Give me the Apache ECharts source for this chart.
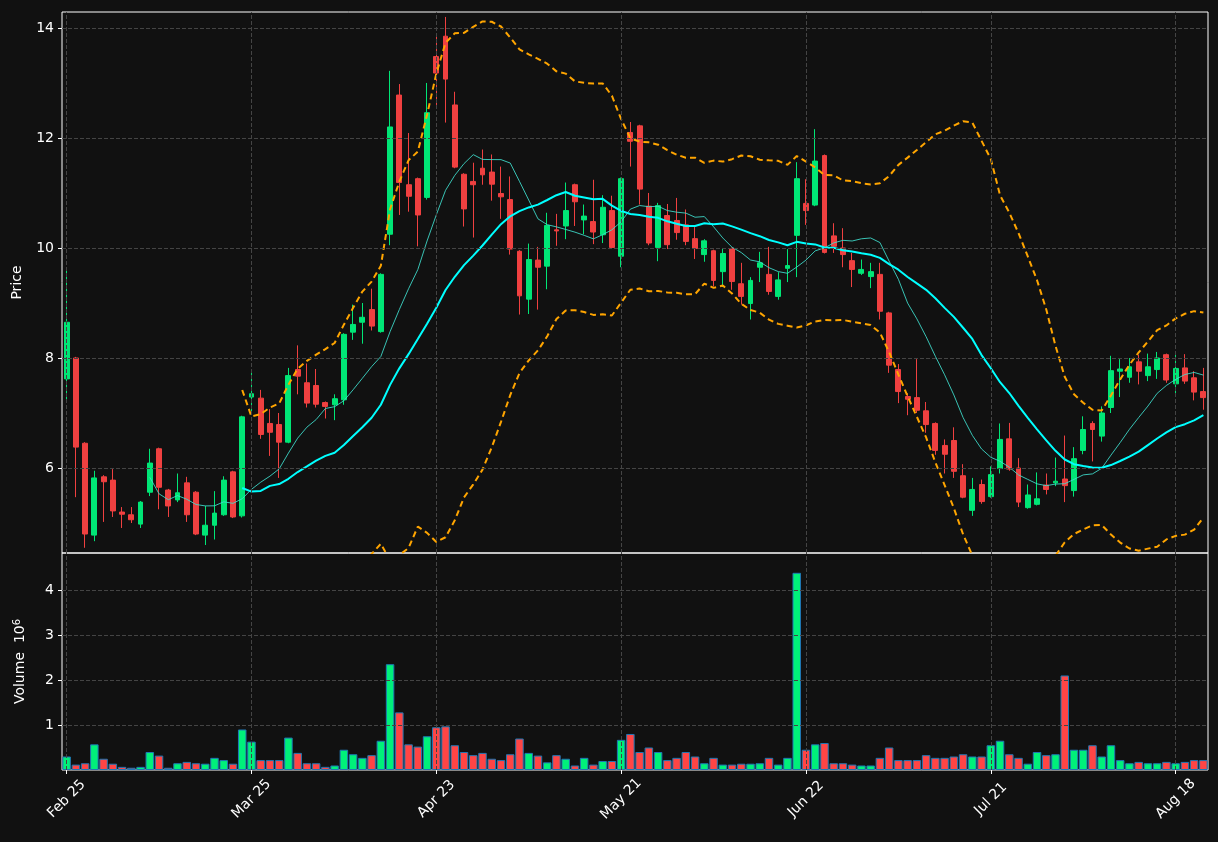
<!DOCTYPE html>
<html><head><meta charset="utf-8">
<script src="https://cdn.jsdelivr.net/npm/echarts@6/dist/echarts.min.js"></script>
<style>html,body{margin:0;padding:0;background:#111111;}#c{width:1218px;height:842px;}</style>
</head><body><div id="c"></div>
<script>
const tickLabels = ['Feb 25','Mar 25','Apr 23','May 21','Jun 22','Jul 21','Aug 18'];
const tickIdx = [0,20,40,60,80,100,120];
const priceTicks = [6,8,10,12,14];
const volTicks = [1,2,3,4];
const opens = [7.62,8.0,6.45,4.78,5.84,5.78,5.20,5.15,4.98,5.56,6.35,5.60,5.42,5.73,5.56,4.78,4.96,5.15,5.93,5.13,
7.29,7.27,6.81,6.79,6.47,7.79,7.55,7.50,7.19,7.15,7.24,8.47,8.65,8.88,8.48,10.25,12.78,11.15,11.26,10.92,
13.48,13.85,12.60,11.34,11.21,11.45,11.38,10.99,10.88,9.94,9.07,9.78,9.67,10.33,10.40,11.15,10.51,10.48,10.24,10.68,
9.85,12.10,12.22,10.76,10.01,10.59,10.50,10.42,10.17,9.88,9.95,9.57,9.99,9.35,8.99,9.65,9.52,9.12,9.63,10.23,
10.81,10.78,11.68,10.22,10.00,9.77,9.54,9.48,9.52,8.82,7.79,7.30,7.28,7.04,6.81,6.41,6.50,5.86,5.23,5.70,
5.48,5.99,6.53,6.00,5.28,5.34,5.69,5.73,5.80,5.59,6.32,6.81,6.58,7.10,7.76,7.65,7.93,7.68,7.79,8.06,
7.53,7.82,7.64,7.39];
const closes = [8.65,6.38,4.80,5.82,5.75,5.22,5.16,5.06,5.38,6.09,5.65,5.31,5.55,5.15,4.80,4.96,5.18,5.78,5.11,6.93,
7.35,6.61,6.65,6.47,7.68,7.67,7.18,7.16,7.12,7.26,8.43,8.61,8.74,8.58,9.52,12.20,11.19,10.94,10.60,12.46,
13.18,13.07,11.47,10.71,11.15,11.33,11.16,10.93,9.98,9.13,9.79,9.65,10.41,10.31,10.68,10.84,10.58,10.29,10.74,10.01,
11.26,11.94,11.07,10.09,10.77,10.06,10.28,10.12,9.99,10.13,9.41,9.90,9.39,9.12,9.41,9.73,9.21,9.42,9.68,11.26,
10.68,11.58,9.92,10.03,9.88,9.61,9.61,9.57,8.85,7.87,7.39,7.25,7.05,6.79,6.32,6.25,5.94,5.47,5.61,5.39,
5.88,6.52,5.98,5.38,5.51,5.44,5.61,5.76,5.68,6.17,6.70,6.70,7.00,7.77,7.80,7.84,7.76,7.84,8.00,7.60,
7.81,7.58,7.38,7.28];
const lows = [7.25,5.47,4.55,4.67,5.02,5.11,4.91,5.00,4.91,5.49,5.25,5.11,5.38,5.02,4.78,4.60,4.70,5.13,5.09,5.10,
7.00,6.53,6.22,5.82,6.45,7.34,7.10,7.10,6.90,6.87,7.15,8.33,8.26,8.50,8.46,10.05,10.60,10.66,10.03,10.88,
12.60,12.28,11.45,10.39,10.19,11.15,10.86,10.53,9.88,8.79,8.80,8.88,9.25,10.04,10.16,10.40,10.25,10.07,10.09,10.00,
9.65,11.48,10.79,10.05,9.76,9.98,10.15,10.05,9.80,9.75,9.30,9.29,9.24,8.97,8.70,9.38,9.15,9.06,9.38,9.47,
10.42,10.76,9.90,9.91,9.65,9.29,9.51,9.27,8.70,7.73,7.18,6.96,7.00,6.64,6.24,5.90,5.82,5.45,5.13,5.35,
5.46,5.90,5.95,5.29,5.26,5.32,5.52,5.67,5.38,5.48,6.25,6.12,6.48,7.00,7.29,7.55,7.52,7.58,7.62,7.55,
7.33,7.53,7.23,7.06];
const highs = [9.65,8.02,6.47,5.95,5.87,5.98,5.29,5.29,5.40,6.35,6.37,5.62,5.90,5.84,5.58,5.31,5.58,5.85,5.95,6.95,
7.76,7.42,7.07,7.00,7.82,8.23,7.90,7.80,7.21,7.34,8.45,8.97,9.00,9.26,9.54,13.22,12.98,12.09,11.28,13.00,
13.86,14.20,12.84,11.36,11.55,11.79,11.70,11.48,11.30,9.96,10.08,10.02,10.64,10.62,11.19,11.17,10.79,11.24,10.96,10.95,
11.28,12.29,12.24,11.00,10.82,10.80,10.91,10.70,10.38,10.16,9.97,10.00,10.01,9.73,9.47,9.93,10.02,9.56,9.98,11.56,
11.25,12.16,11.70,10.45,10.36,9.91,9.79,9.73,9.73,8.84,7.89,7.36,7.98,7.20,6.83,6.52,6.74,6.07,5.82,5.79,
6.03,6.81,6.82,6.18,5.70,5.92,5.90,6.19,6.59,6.38,6.94,6.85,7.12,8.04,7.98,8.00,8.06,8.08,8.11,8.08,
8.06,8.07,7.76,7.82];
const volumes = [0.30,0.12,0.15,0.57,0.25,0.14,0.07,0.05,0.07,0.40,0.32,0.05,0.15,0.18,0.15,0.14,0.27,0.22,0.14,0.90,
0.63,0.22,0.22,0.22,0.72,0.38,0.15,0.15,0.07,0.10,0.45,0.35,0.27,0.33,0.65,2.35,1.28,0.57,0.52,0.75,
0.95,0.97,0.55,0.40,0.33,0.38,0.25,0.22,0.35,0.70,0.38,0.32,0.17,0.33,0.25,0.10,0.27,0.12,0.20,0.20,
0.67,0.80,0.40,0.50,0.40,0.22,0.27,0.40,0.30,0.15,0.27,0.12,0.12,0.14,0.14,0.15,0.27,0.12,0.27,4.38,
0.45,0.57,0.60,0.15,0.15,0.12,0.10,0.10,0.27,0.50,0.22,0.22,0.22,0.33,0.27,0.27,0.30,0.35,0.30,0.30,
0.55,0.65,0.35,0.27,0.14,0.40,0.33,0.35,2.10,0.45,0.45,0.55,0.30,0.55,0.22,0.15,0.18,0.15,0.15,0.18,
0.15,0.18,0.22,0.22];

const N = closes.length;
const cats = closes.map((_, i) => String(i));
function ma(p){ return closes.map((_, i) => { if (i < p-1) return null; let s=0; for(let k=i-p+1;k<=i;k++) s+=closes[k]; return +(s/p).toFixed(4); }); }
const ma10 = ma(10), ma20 = ma(20);
function band(sign){ return closes.map((_, i) => { if (i < 19) return null; const m = ma20[i]; let s=0; for(let k=i-19;k<=i;k++) s+=(closes[k]-m)**2; return +(m + sign*2*Math.sqrt(s/19)).toFixed(4); }); }
const upper = band(1), lower = band(-1);

const UP='#00e676', DOWN='#f04040', VUP='#00f07a', VDOWN='#ff4545';
const candleData = opens.map((o,i)=>[o, closes[i], lows[i], highs[i]]);
const volData = volumes.map((v,i)=>({value:v, itemStyle:{color: closes[i]>=opens[i] ? VUP : VDOWN, borderColor:'#1f77b4', borderWidth:1}}));

const txt = {color:'#ffffff', fontSize:13, fontFamily:'DejaVu Sans'};
const gl = {color:'#444', type:'dashed', width:1};
function gridMarks(hvals){
  return {silent:true, symbol:'none', label:{show:false}, lineStyle:gl, animation:false,
    data: hvals.map(v=>({yAxis:v})).concat(tickIdx.map(i=>({xAxis:String(i)})))};
}
const chart = echarts.init(document.getElementById('c'), null, {renderer:'canvas'});
chart.setOption({
  backgroundColor:'#111111', animation:false,
  grid:[
    {left:62, right:10, top:12, height:541, show:true, borderColor:'#ffffff', borderWidth:1, backgroundColor:'transparent'},
    {left:62, right:10, top:553, height:217, show:true, borderColor:'#ffffff', borderWidth:1, backgroundColor:'transparent'}
  ],
  xAxis:[
    {type:'category', gridIndex:0, data:cats, boundaryGap:true, axisLine:{show:false}, axisTick:{show:false}, axisLabel:{show:false}, splitLine:{show:false}},
    {type:'category', gridIndex:1, data:cats, boundaryGap:true, axisLine:{show:false},
      axisTick:{show:true, alignWithLabel:true, length:4, lineStyle:{color:'#fff'}, interval:(i)=>tickIdx.includes(i)},
      axisLabel:{...txt, fontSize:14, rotate:45, margin:29, align:'center', verticalAlign:'middle', interval:(i)=>tickIdx.includes(i),
        formatter:(v)=>{const k=tickIdx.indexOf(Number(v)); return k>=0?tickLabels[k]:'';}},
      splitLine:{show:false}}
  ],
  yAxis:[
    {type:'value', gridIndex:0, min:4.455, max:14.29, name:'Price', nameLocation:'middle', nameGap:38, nameTextStyle:{...txt, fontSize:14},
      axisLine:{show:false}, axisTick:{show:true, length:4, lineStyle:{color:'#fff'}, customValues:priceTicks},
      axisLabel:{...txt, fontSize:14, customValues:priceTicks}, splitLine:{show:false}},
    {type:'value', gridIndex:1, min:0, max:4.82, name:'Volume  10{sup|6}', nameLocation:'middle', nameGap:34,
      nameTextStyle:{...txt, fontSize:14, rich:{sup:{color:'#fff', fontSize:10, verticalAlign:'top', padding:[0,0,6,0], fontFamily:'DejaVu Sans'}}},
      axisLine:{show:false}, axisTick:{show:true, length:4, lineStyle:{color:'#fff'}, customValues:volTicks},
      axisLabel:{...txt, fontSize:14, customValues:volTicks}, splitLine:{show:false}}
  ],
  series:[
    {type:'candlestick', xAxisIndex:0, yAxisIndex:0, data:candleData, barWidth:'58%', z:3,
      itemStyle:{color:UP, color0:DOWN, borderColor:UP, borderColor0:DOWN, borderWidth:1},
      markLine:gridMarks(priceTicks)},
    {type:'line', xAxisIndex:0, yAxisIndex:0, data:ma10, symbol:'none', z:4, lineStyle:{color:'#40e0d0', width:1, opacity:0.85}},
    {type:'line', xAxisIndex:0, yAxisIndex:0, data:ma20, symbol:'none', z:4, lineStyle:{color:'#00ffff', width:2}},
    {type:'line', xAxisIndex:0, yAxisIndex:0, data:upper, symbol:'none', z:4, lineStyle:{color:'#ffa500', width:2, type:[6,4]}},
    {type:'line', xAxisIndex:0, yAxisIndex:0, data:lower, symbol:'none', z:4, lineStyle:{color:'#ffa500', width:2, type:[6,4]}},
    {type:'bar', xAxisIndex:1, yAxisIndex:1, data:volData, barWidth:'92%', z:3, markLine:gridMarks(volTicks)}
  ]
});
</script></body></html>
